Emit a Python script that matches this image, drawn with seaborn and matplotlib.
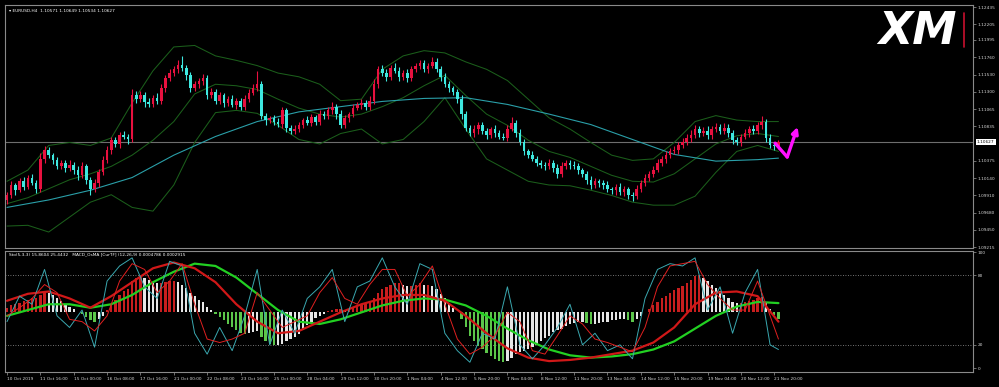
import numpy as np
import pandas as pd
import matplotlib
matplotlib.use("Agg")
import matplotlib.pyplot as plt
import seaborn as sns
from matplotlib.transforms import blended_transform_factory
from matplotlib.lines import Line2D

# ---------------- data ----------------
symbol_header = "\u25BE EURUSD,H4  1.10571 1.10649 1.10534 1.10627"
sub_header = "Sto(5,3,3) 15.8604 25.4432   MACD_OsMA [CurTF] (12,26,9) 0.0004786 0.0002915"

first_open = 1.0985
close = [
    1.0992, 1.1005, 1.0998, 1.1010, 1.1003, 1.1015, 1.1008, 1.1000, 1.1040, 1.1052,
    1.1045, 1.1038, 1.1030, 1.1035, 1.1028, 1.1032, 1.1025, 1.1018, 1.1030, 1.1012,
    1.1000, 1.1008, 1.1022, 1.1038, 1.1052, 1.1065, 1.1060, 1.1072, 1.1070, 1.1066,
    1.1126, 1.1120, 1.1125, 1.1116, 1.1114, 1.1122, 1.1118, 1.1135, 1.1148, 1.1155,
    1.1160, 1.1166, 1.1162, 1.1152, 1.1135, 1.1140, 1.1145, 1.1148, 1.1125, 1.1130,
    1.1118, 1.1125, 1.1115, 1.1120, 1.1112, 1.1118, 1.1110, 1.1120, 1.1128, 1.1135,
    1.1140, 1.1098, 1.1092, 1.1095, 1.1090, 1.1087, 1.1105, 1.1082, 1.1078, 1.1080,
    1.1086, 1.1092, 1.1088, 1.1096, 1.1090, 1.1100, 1.1098, 1.1105, 1.1110, 1.1100,
    1.1086, 1.1095, 1.1100, 1.1108, 1.1112, 1.1115, 1.1110, 1.1118, 1.1140, 1.1160,
    1.1155, 1.1150, 1.1162, 1.1158, 1.1150, 1.1155, 1.1148, 1.1160, 1.1165, 1.1168,
    1.1160, 1.1165, 1.1170, 1.1160, 1.1150, 1.1140, 1.1135, 1.1130, 1.1120, 1.1100,
    1.1082, 1.1075, 1.1080, 1.1085, 1.1078, 1.1072, 1.1080, 1.1075, 1.1070, 1.1068,
    1.1080, 1.1088, 1.1075, 1.1062, 1.1050, 1.1045, 1.1040, 1.1035, 1.1032, 1.1030,
    1.1035, 1.1028, 1.1020, 1.1030, 1.1035, 1.1032, 1.1030, 1.1025, 1.1020, 1.1012,
    1.1005, 1.1010, 1.1008, 1.1005, 1.1000, 1.0998, 1.1003, 1.0995, 1.1000, 1.0992,
    1.0990, 1.1000, 1.1008, 1.1015, 1.1020, 1.1025, 1.1035, 1.1040, 1.1045, 1.1050,
    1.1052, 1.1058, 1.1062, 1.1068, 1.1072, 1.1080, 1.1075, 1.1078, 1.1072, 1.1080,
    1.1083, 1.1078, 1.1082, 1.1075, 1.1065, 1.1062, 1.1070, 1.1075, 1.1080, 1.1078,
    1.1085, 1.1090, 1.1068, 1.1058, 1.10571, 1.10627,
]
wick_up = [
    4, 5, 3, 4, 6, 3, 5, 4, 8, 5,   4, 3, 5, 4, 3, 6, 4, 5, 6, 3,
    4, 5, 4, 6, 5, 4, 5, 4, 6, 4,   8, 5, 6, 4, 5, 4, 6, 5, 4, 6,
    5, 6, 12, 4, 5, 5, 4, 6, 4, 5,  4, 5, 3, 4, 5, 4, 3, 6, 5, 6,
    18, 5, 4, 3, 4, 5, 4, 3, 4, 5,  4, 3, 5, 4, 3, 5, 4, 5, 6, 4,
    5, 4, 3, 5, 4, 5, 4, 6, 7, 5,   6, 5, 4, 6, 5, 4, 6, 5, 4, 5,
    5, 4, 6, 5, 4, 5, 4, 3, 4, 5,   4, 3, 5, 4, 5, 4, 3, 6, 4, 5,
    6, 8, 4, 5, 4, 3, 5, 4, 3, 4,   5, 4, 5, 6, 4, 3, 5, 4, 3, 4,
    5, 4, 3, 4, 5, 3, 4, 5, 4, 3,   4, 5, 4, 5, 4, 6, 5, 4, 5, 4,
    5, 4, 6, 5, 7, 5, 4, 5, 6, 4,   5, 4, 6, 5, 4, 5, 4, 5, 4, 5,
    5, 7, 4, 5, 4, 2,
]
wick_dn = [
    5, 4, 6, 3, 5, 4, 3, 6, 4, 5,   4, 5, 4, 3, 5, 4, 5, 6, 4, 5,
    8, 4, 5, 4, 3, 5, 4, 5, 4, 6,   4, 5, 4, 6, 5, 4, 5, 4, 5, 4,
    4, 5, 4, 6, 5, 4, 5, 6, 5, 4,   5, 4, 5, 4, 3, 5, 4, 5, 4, 3,
    4, 5, 6, 4, 5, 4, 5, 6, 4, 5,   4, 5, 3, 4, 5, 4, 5, 4, 5, 6,
    5, 4, 5, 4, 3, 5, 4, 5, 4, 5,   4, 5, 4, 3, 6, 4, 5, 4, 3, 5,
    4, 5, 3, 4, 5, 4, 5, 4, 5, 6,   5, 4, 5, 6, 4, 5, 4, 5, 4, 3,
    4, 3, 5, 4, 5, 4, 3, 5, 4, 5,   4, 5, 6, 4, 3, 5, 4, 5, 4, 6,
    5, 4, 6, 5, 4, 5, 6, 4, 5, 6,   6, 4, 5, 4, 5, 4, 3, 4, 5, 4,
    4, 5, 4, 3, 5, 4, 5, 4, 6, 5,   4, 5, 4, 6, 5, 4, 5, 4, 5, 4,
    4, 5, 6, 4, 5, 4,
]

# Bollinger bands (sampled every 5 bars) and slow MA (every 10 bars)
band_x = list(range(0, 186, 5))
bb_upper = [1.1010, 1.1025, 1.1058, 1.1062, 1.1058, 1.1068, 1.1115, 1.1158, 1.1190, 1.1192,
            1.1178, 1.1172, 1.1165, 1.1155, 1.1150, 1.1140, 1.1118, 1.1120, 1.1160, 1.1178,
            1.1185, 1.1182, 1.1170, 1.1160, 1.1145, 1.1120, 1.1095, 1.1080, 1.1062, 1.1045,
            1.1038, 1.1040, 1.1062, 1.1090, 1.1098, 1.1092, 1.1090, 1.1090]
bb_mid = [1.0980, 1.0988, 1.1000, 1.1012, 1.1020, 1.1030, 1.1045, 1.1065, 1.1090, 1.1127,
          1.1140, 1.1138, 1.1133, 1.1120, 1.1108, 1.1100, 1.1096, 1.1100, 1.1110, 1.1122,
          1.1138, 1.1152, 1.1125, 1.1100, 1.1085, 1.1065, 1.1050, 1.1042, 1.1030, 1.1018,
          1.1010, 1.1009, 1.1020, 1.1040, 1.1060, 1.1071, 1.1074, 1.1070]
bb_lower = [1.0950, 1.0951, 1.0942, 1.0962, 1.0982, 1.0992, 1.0975, 1.0970, 1.1005, 1.1062,
            1.1102, 1.1105, 1.1101, 1.1085, 1.1066, 1.1060, 1.1074, 1.1080, 1.1060, 1.1066,
            1.1090, 1.1122, 1.1080, 1.1040, 1.1025, 1.1010, 1.1005, 1.1004, 1.0998, 1.0991,
            1.0982, 1.0978, 1.0978, 1.0990, 1.1022, 1.1050, 1.1058, 1.1050]
ma_x = list(range(0, 181, 10)) + [185]
ma_slow = [1.0975, 1.0985, 1.0998, 1.1015, 1.1045, 1.1070, 1.1090, 1.1103, 1.1110, 1.1117,
           1.1121, 1.1122, 1.1113, 1.1100, 1.1086, 1.1066, 1.1046, 1.1037, 1.1039, 1.1041]

price_ticks = [1.12435, 1.12205, 1.11995, 1.11760, 1.11530, 1.11300, 1.11065, 1.10835,
               1.10375, 1.10140, 1.09910, 1.09680, 1.09450, 1.09215]
current_price = 1.10627

# Sub-window: stochastic (every 3 bars), MACD lines (every 5 bars), OsMA histogram (every bar)
sto_x = list(range(0, 184, 3)) + [185]
sto_main = [40, 62, 55, 85, 45, 35, 50, 18, 75, 88,
            95, 70, 60, 92, 88, 30, 12, 35, 15, 45,
            85, 20, 50, 30, 60, 70, 85, 40, 70, 75,
            95, 70, 55, 90, 85, 30, 15, 5, 30, 25,
            70, 20, 8, 20, 35, 55, 20, 30, 15, 20,
            8, 60, 85, 90, 88, 95, 50, 70, 30, 65,
            85, 20, 16]
sto_signal = [45, 52, 60, 72, 65, 42, 40, 32, 45, 75,
              90, 85, 65, 75, 90, 55, 25, 22, 25, 30,
              65, 50, 35, 40, 45, 65, 78, 60, 55, 72,
              85, 85, 62, 72, 88, 55, 25, 12, 18, 28,
              48, 40, 15, 12, 28, 45, 38, 25, 22, 18,
              14, 35, 70, 88, 90, 92, 72, 60, 50, 50,
              75, 45, 25]
macd_x = band_x
macd_green = [45, 50, 55, 55, 52, 55, 63, 74, 83, 90, 88, 78, 64, 50, 40, 38, 42, 48, 54, 58,
              60, 59, 54, 45, 34, 24, 16, 11, 9, 10, 12, 16, 23, 34, 45, 53, 57, 56]
macd_red = [58, 64, 66, 60, 52, 62, 74, 86, 91, 86, 74, 55, 40, 30, 32, 40, 48, 55, 60, 63,
            63, 58, 45, 30, 17, 9, 6, 7, 9, 12, 15, 22, 35, 55, 65, 66, 62, 40]
osma_base = 48
osma = [
    4, 6, 7, 8, 10, 11, 12, 12, 15, 18,
    17, 15, 12, 10, 7, 5, 3, 0, -1, -4, -7, -8,
    -6, -3, 2, 7, 11, 15, 18, 20, 27,
    30, 31, 30, 28, 26, 25, 25, 26, 27, 27, 26, 24, 21, 17, 14,
    11, 9, 5, 2, -1, -4, -7, -10, -13, -15, -18, -19, -18, -17, -16,
    -21, -25, -27, -28, -28, -27, -25, -23, -21, -19,
    -15, -11, -8, -5, -3, -1, 1, 2, 3, 3, 2, 3, 4, 5, 6, 8, 10,
    12, 17, 20, 22, 24, 25, 25, 24, 23, 23, 24, 25, 24, 24, 23,
    20, 16, 12, 8, 4, 0,
    -6, -13, -20, -25, -29, -32, -35, -38, -40, -42, -43, -42, -39, -36, -34, -33, -32,
    -30, -28, -25, -22, -20, -17, -15, -14, -12, -10, -9, -8, -8, -9, -10, -10, -9, -8,
    -8, -7, -7, -6, -6, -7, -8,
    -6, -3, 0, 3, 6, 9, 12, 14, 17, 19, 21, 23, 25, 28, 31,
    32, 30, 27, 24, 21, 18, 15, 12, 9, 8, 8, 9, 10, 11, 12, 13,
    8, 3, -2, -6,
]
sto_levels = [80, 20]

date_labels = ["10 Oct 2019", "11 Oct 16:00", "15 Oct 00:00", "16 Oct 08:00", "17 Oct 16:00",
               "21 Oct 00:00", "22 Oct 08:00", "23 Oct 16:00", "25 Oct 00:00", "28 Oct 04:00",
               "29 Oct 12:00", "30 Oct 20:00", "1 Nov 04:00", "4 Nov 12:00", "5 Nov 20:00",
               "7 Nov 04:00", "8 Nov 12:00", "11 Nov 20:00", "13 Nov 04:00", "14 Nov 12:00",
               "15 Nov 20:00", "19 Nov 04:00", "20 Nov 12:00", "21 Nov 20:00"]
bars_per_label = 8

# forecast arrow drawn on the chart (bar, price)
arrow_path_x = [184.2, 187.1, 189.6]
arrow_path_y = [1.1061, 1.10425, 1.1083]

# ---------------- styling ----------------
sns.set_theme(style="dark", rc={
    "figure.facecolor": "black", "axes.facecolor": "black",
    "axes.edgecolor": "#8a8a8a", "axes.grid": False,
    "text.color": "white", "xtick.color": "#9a9a9a", "ytick.color": "#9a9a9a",
})
plt.rcParams["font.family"] = ["DejaVu Sans"]

BULL = "#e8113f"
BEAR = "#3ee8e0"
BAND = "#1b5e1b"
MA_C = "#2a9fa8"
FS = 3.1

W, H = 999, 387
def box(x0, y0, x1, y1):
    return [x0 / W, 1 - y1 / H, (x1 - x0) / W, (y1 - y0) / H]

fig = plt.figure(figsize=(W / 100, H / 100), dpi=100, facecolor="black")
ax = fig.add_axes(box(5, 5, 973, 248))
ax2 = fig.add_axes(box(5, 251, 973, 372), sharex=ax)

px_per_bar = 4.17
xmin = -(7 - 5) / px_per_bar
xmax = (973 - 7) / px_per_bar

# ---------------- main panel ----------------
df = pd.DataFrame({"close": close, "up": wick_up, "dn": wick_dn})
df["open"] = [first_open] + close[:-1]
df["bar"] = np.arange(len(df))
top = df[["open", "close"]].max(axis=1)
bot = df[["open", "close"]].min(axis=1)
df["high"] = top + df["up"] * 0.0001
df["low"] = bot - df["dn"] * 0.0001
colors = np.where(df["close"] >= df["open"], BULL, BEAR)

ax.vlines(df["bar"], df["low"], df["high"], colors=colors, linewidth=0.8, zorder=3)
heights = np.maximum(top - bot, 0.00003)
ax.bar(df["bar"], heights, bottom=bot, width=0.62, color=colors, linewidth=0, zorder=4)

sns.lineplot(x=band_x, y=bb_upper, ax=ax, color=BAND, linewidth=0.75, zorder=2)
sns.lineplot(x=band_x, y=bb_mid, ax=ax, color=BAND, linewidth=0.75, zorder=2)
sns.lineplot(x=band_x, y=bb_lower, ax=ax, color=BAND, linewidth=0.75, zorder=2)
sns.lineplot(x=ma_x, y=ma_slow, ax=ax, color=MA_C, linewidth=0.8, zorder=2)

ax.axhline(current_price, color="#6e6e6e", linewidth=0.8, zorder=1)

ax.plot(arrow_path_x[:2], arrow_path_y[:2], color="#ff10ff", linewidth=2.4,
        solid_capstyle="round", zorder=6)
ax.annotate("", xy=(arrow_path_x[2], arrow_path_y[2]),
            xytext=(arrow_path_x[1], arrow_path_y[1]),
            arrowprops=dict(arrowstyle="-|>", color="#ff10ff", lw=2.4,
                            mutation_scale=9, shrinkA=0, shrinkB=0), zorder=6)

ax.set_xlim(xmin, xmax)
ax.set_ylim(1.09206, 1.12462)
ax.yaxis.tick_right()
ax.set_yticks(price_ticks)
ax.set_yticklabels([f"{v:.5f}" for v in price_ticks])
ax.tick_params(axis="y", labelsize=FS, length=2, width=0.5, pad=1.5,
               labelcolor="#d8d8d8", right=True, left=False)
ax.tick_params(axis="x", bottom=False, labelbottom=False)
ax.set_xlabel("")
ax.set_ylabel("")
for s in ax.spines.values():
    s.set_color("#8a8a8a")
    s.set_linewidth(0.8)

tr = blended_transform_factory(ax.transAxes, ax.transData)
ax.text(1.004, current_price, f"{current_price:.5f}", transform=tr, fontsize=FS,
        color="black", va="center", ha="left",
        bbox=dict(facecolor="white", edgecolor="none", pad=0.8), zorder=10, clip_on=False)
ax.text(0.004, 0.985, symbol_header, transform=ax.transAxes, fontsize=FS,
        color="white", va="top", ha="left")

# XM logo
fig.text(0.918, 0.918, "XM", fontsize=32, fontweight="black", fontstyle="italic",
         color="white", ha="center", va="center")
fig.add_artist(Line2D([964 / W, 964 / W], [1 - 13 / H, 1 - 47 / H],
                      color="#c8102e", linewidth=1.2))

# ---------------- sub window ----------------
hist = np.array(osma, dtype=float)
prev = np.concatenate([[hist[0]], hist[:-1]])
hcol = []
for v, p in zip(hist, prev):
    if v >= 0 and v >= p:
        hcol.append("#c81e1e")
    elif v < 0 and v < p:
        hcol.append("#5cc64a")
    else:
        hcol.append("#e6e6e6")
ax2.bar(np.arange(len(hist)), hist, bottom=osma_base, width=0.55, color=hcol,
        linewidth=0, zorder=2)

for lv in sto_levels:
    ax2.axhline(lv, color="#9a9a9a", linewidth=0.6, linestyle=(0, (1, 2)), zorder=1)

sns.lineplot(x=macd_x, y=macd_green, ax=ax2, color="#22d022", linewidth=1.6, zorder=4)
sns.lineplot(x=macd_x, y=macd_red, ax=ax2, color="#d01818", linewidth=1.6, zorder=4)
sns.lineplot(x=sto_x, y=sto_main, ax=ax2, color="#3aa8b0", linewidth=0.7, zorder=5)
sns.lineplot(x=sto_x, y=sto_signal, ax=ax2, color="#e02020", linewidth=0.7, zorder=5)

ax2.set_xlim(xmin, xmax)
ax2.set_ylim(-3.4, 100.9)
ax2.yaxis.tick_right()
ax2.set_yticks([0, 20, 80, 100])
ax2.set_yticklabels(["0", "20", "80", "100"])
ax2.tick_params(axis="y", labelsize=FS, length=2, width=0.5, pad=1.5,
                labelcolor="#d8d8d8", right=True, left=False)
xt = [i * bars_per_label for i in range(len(date_labels))]
ax2.set_xticks(xt)
ax2.set_xticklabels(date_labels, ha="left")
ax2.tick_params(axis="x", labelsize=FS, length=2, width=0.5, pad=1.5,
                labelcolor="#d8d8d8", bottom=True, labelbottom=True)
ax2.set_xlabel("")
ax2.set_ylabel("")
for s in ax2.spines.values():
    s.set_color("#8a8a8a")
    s.set_linewidth(0.8)
ax2.text(0.004, 0.985, sub_header, transform=ax2.transAxes, fontsize=FS,
         color="white", va="top", ha="left")

fig.savefig("out.png", dpi=100, facecolor="black")
